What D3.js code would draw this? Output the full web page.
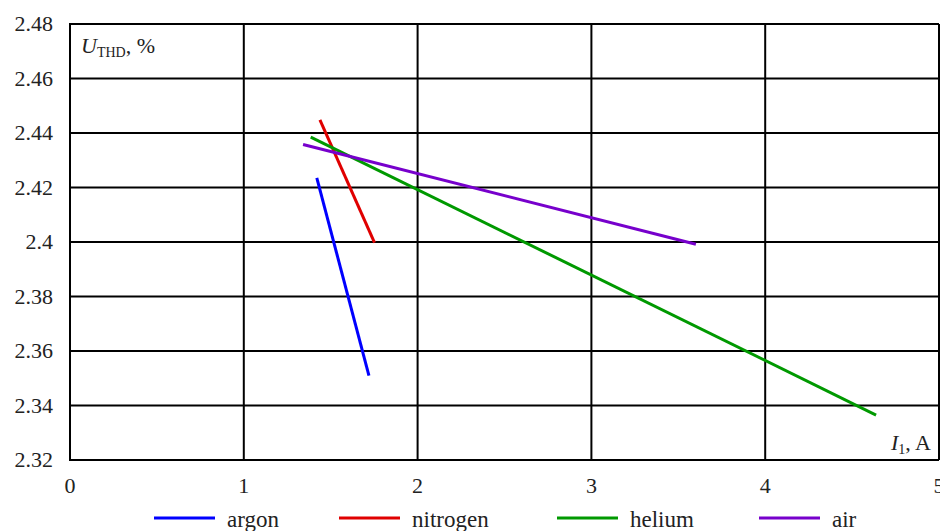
<!DOCTYPE html>
<html>
<head>
<meta charset="utf-8">
<script src="https://cdn.jsdelivr.net/npm/d3@7/dist/d3.min.js"></script>
<style>
  html, body { margin: 0; padding: 0; background: #fff; }
  svg { display: block; }
</style>
</head>
<body>
<svg id="chart" width="940" height="531"></svg>
<script>
// series: [I1, U_THD] end points
const seriesNames = ['argon', 'nitrogen', 'helium', 'air'];
const seriesColors = ['#0000ff', '#e00000', '#009900', '#7700cc'];
const argon = [[1.42, 2.4235], [1.72, 2.351]];
const nitrogen = [[1.438, 2.4448], [1.752, 2.3998]];
const helium = [[1.385, 2.4385], [4.638, 2.3365]];
const air = [[1.341, 2.4358], [3.601, 2.3992]];
const xTicks = [0, 1, 2, 3, 4, 5];
const yTicks = [2.32, 2.34, 2.36, 2.38, 2.40, 2.42, 2.44, 2.46, 2.48];

const allSeries = [argon, nitrogen, helium, air];

const width = 940, height = 531;
const margin = { top: 24, right: 1, bottom: 71, left: 70 };

const svg = d3.select('#chart').attr('font-family', 'Liberation Serif');

const x = d3.scaleLinear().domain([0, 5]).range([margin.left, width - margin.right]);
const y = d3.scaleLinear().domain([2.32, 2.48]).range([height - margin.bottom, margin.top]);

// grid
const grid = svg.append('g').attr('stroke', '#000').attr('stroke-width', 2);
grid.selectAll('.v').data(xTicks).join('line')
  .attr('x1', d => x(d)).attr('x2', d => x(d))
  .attr('y1', y(2.32)).attr('y2', y(2.48));
grid.selectAll('.h').data(yTicks).join('line')
  .attr('x1', x(0) - 1).attr('x2', x(5))
  .attr('y1', d => y(d)).attr('y2', d => y(d));

// tick labels
const fmt = d3.format('~g');
svg.append('g').selectAll('text').data(yTicks).join('text')
  .attr('x', 53).attr('y', d => y(d) + 7)
  .attr('text-anchor', 'end').attr('font-size', 22).attr('fill', '#222')
  .text(d => fmt(d));
svg.append('g').selectAll('text').data(xTicks).join('text')
  .attr('x', d => x(d)).attr('y', 493)
  .attr('text-anchor', 'middle').attr('font-size', 22).attr('fill', '#222')
  .text(d => d);

// axis titles
const yt = svg.append('text').attr('x', 81).attr('y', 53).attr('font-size', 22).attr('fill', '#222');
yt.append('tspan').attr('font-style', 'italic').text('U');
yt.append('tspan').attr('font-size', 14).attr('dy', 4).text('THD');
yt.append('tspan').attr('dy', -4).text(', %');

const xt = svg.append('text').attr('x', 931).attr('y', 450).attr('text-anchor', 'end')
  .attr('font-size', 22).attr('fill', '#222');
xt.append('tspan').attr('font-style', 'italic').text('I');
xt.append('tspan').attr('font-size', 14).attr('dy', 4).text('1');
xt.append('tspan').attr('dy', -4).text(', A');

// series lines
const line = d3.line().x(d => x(d[0])).y(d => y(d[1]));
svg.append('g').selectAll('path').data(allSeries).join('path')
  .attr('d', line)
  .attr('fill', 'none')
  .attr('stroke', (d, i) => seriesColors[i])
  .attr('stroke-width', 3);

// legend
const legendX = [154, 339, 557, 759];
const lg = svg.append('g').selectAll('g').data(seriesNames).join('g')
  .attr('transform', (d, i) => `translate(${legendX[i]},518)`);
lg.append('line').attr('x1', 0).attr('x2', 61).attr('y1', 0).attr('y2', 0)
  .attr('stroke', (d, i) => seriesColors[i]).attr('stroke-width', 3);
lg.append('text').attr('x', 73).attr('y', 9).attr('font-size', 23).attr('fill', '#222')
  .text(d => d);
</script>
</body>
</html>
